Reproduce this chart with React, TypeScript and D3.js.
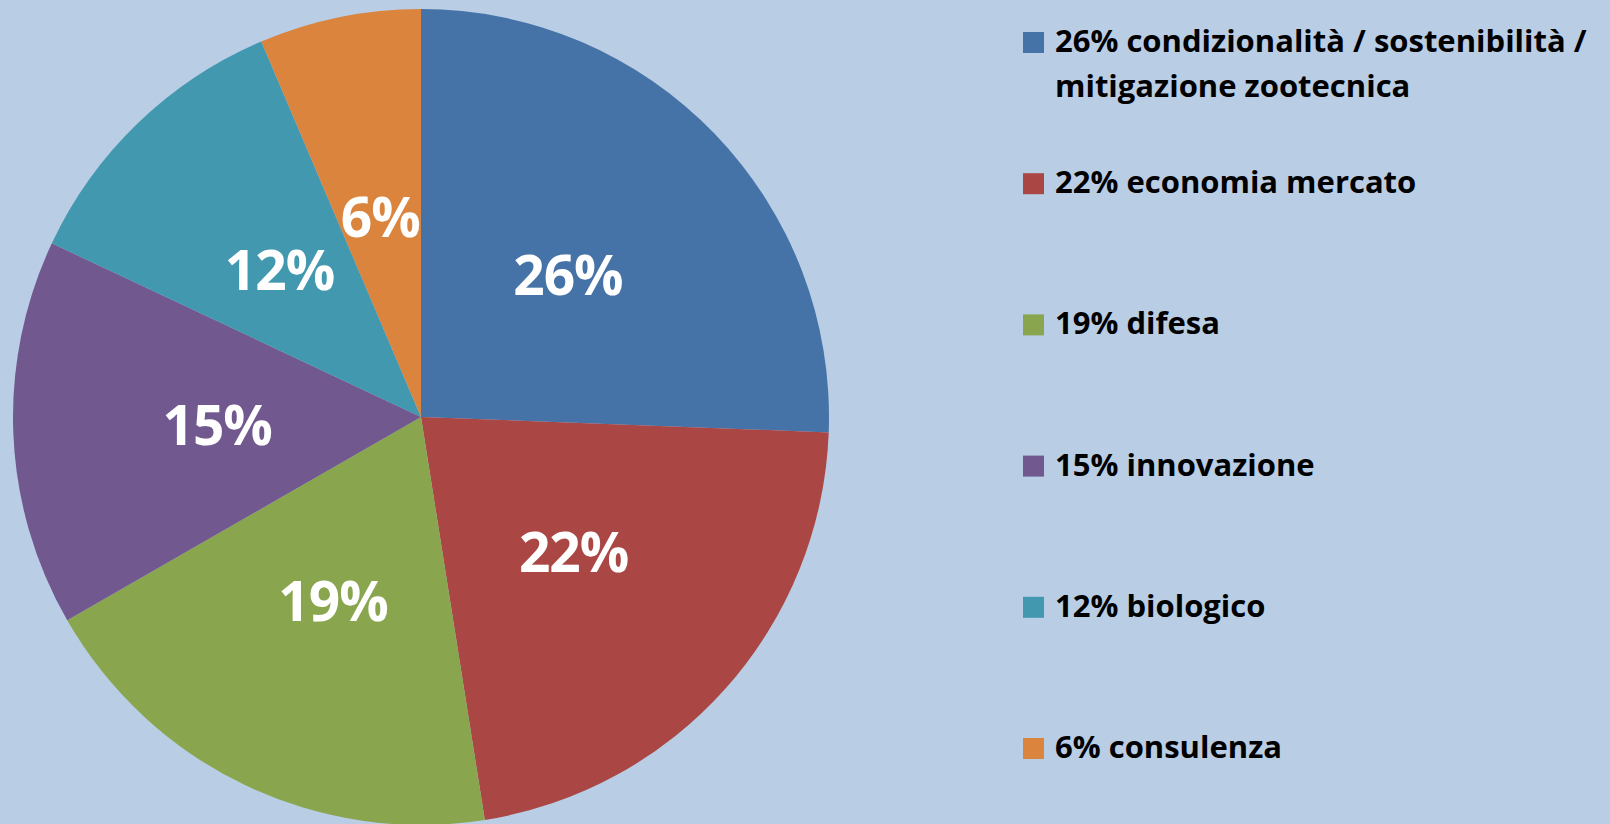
import React, { useEffect } from 'react';
import * as d3 from 'd3';

// shares (the labels are rounded)
const categories = [
  'condizionalità / sostenibilità / mitigazione zootecnica',
  'economia mercato',
  'difesa',
  'innovazione',
  'biologico',
  'consulenza',
];
const values = [25.6, 21.9, 19.2, 15.3, 11.6, 6.4];
const pctLabels = ['26%', '22%', '19%', '15%', '12%', '6%'];
const legendLines = [
  ['26% condizionalità / sostenibilità /', 'mitigazione zootecnica'],
  ['22% economia mercato'],
  ['19% difesa'],
  ['15% innovazione'],
  ['12% biologico'],
  ['6% consulenza'],
];
const colors = ['#4572A7', '#AA4643', '#89A54E', '#71588F', '#4198AF', '#DB843D'];

const App = () => {
  useEffect(() => {
    document.body.style.margin = '0';
    d3.select('#chart').select('svg').remove();

    const width = 1610,
      height = 824;
    const cx = 421,
      cy = 417,
      radius = 408;

    const svg = d3
      .select('#chart')
      .append('svg')
      .attr('width', width)
      .attr('height', height)
      .style('display', 'block');

    svg.append('rect').attr('width', width).attr('height', height).attr('fill', '#B9CDE5');

    const data = categories.map((c, i) => ({ name: c, value: values[i], label: pctLabels[i], color: colors[i] }));

    const pie = d3
      .pie<any>()
      .sort(null)
      .value((d) => d.value);
    const arcs = pie(data);

    const arc = d3.arc<any>().innerRadius(0).outerRadius(radius);
    const labelArc = d3.arc<any>().innerRadius(0).outerRadius(radius);

    const g = svg.append('g').attr('transform', 'translate(' + cx + ',' + cy + ')');

    g.selectAll('path')
      .data(arcs)
      .enter()
      .append('path')
      .attr('d', arc)
      .attr('fill', (d) => d.data.color);

    g.selectAll('text.pct')
      .data(arcs)
      .enter()
      .append('text')
      .attr('class', 'pct')
      .attr('transform', (d) => {
        const c = labelArc.centroid(d);
        return 'translate(' + c[0] + ',' + c[1] + ')';
      })
      .attr('text-anchor', 'middle')
      .attr('dy', '0.36em')
      .attr('fill', '#ffffff')
      .style('font-family', '"Open Sans", sans-serif')
      .style('font-weight', 700)
      .style('font-size', '55px')
      .style('letter-spacing', '-1px')
      .text((d) => d.data.label);

    // legend
    const legend = svg.append('g').attr('transform', 'translate(1023,0)');
    const items = legend
      .selectAll('g.item')
      .data(data)
      .enter()
      .append('g')
      .attr('class', 'item')
      .attr('transform', (d, i) => 'translate(0,' + (32 + i * 141.2) + ')');

    items.append('rect').attr('width', 21).attr('height', 21).attr('fill', (d) => d.color);

    items
      .append('text')
      .attr('x', 32)
      .attr('y', 20)
      .attr('fill', '#000000')
      .style('font-family', '"Open Sans", sans-serif')
      .style('font-weight', 700)
      .style('font-size', '31px')
      .selectAll('tspan')
      .data((d, i) => legendLines[i])
      .enter()
      .append('tspan')
      .attr('x', 32)
      .attr('dy', (d, j) => (j === 0 ? 0 : 45))
      .text((d) => d);
  }, []);

  return <div id="chart"></div>;
};

export default App;
